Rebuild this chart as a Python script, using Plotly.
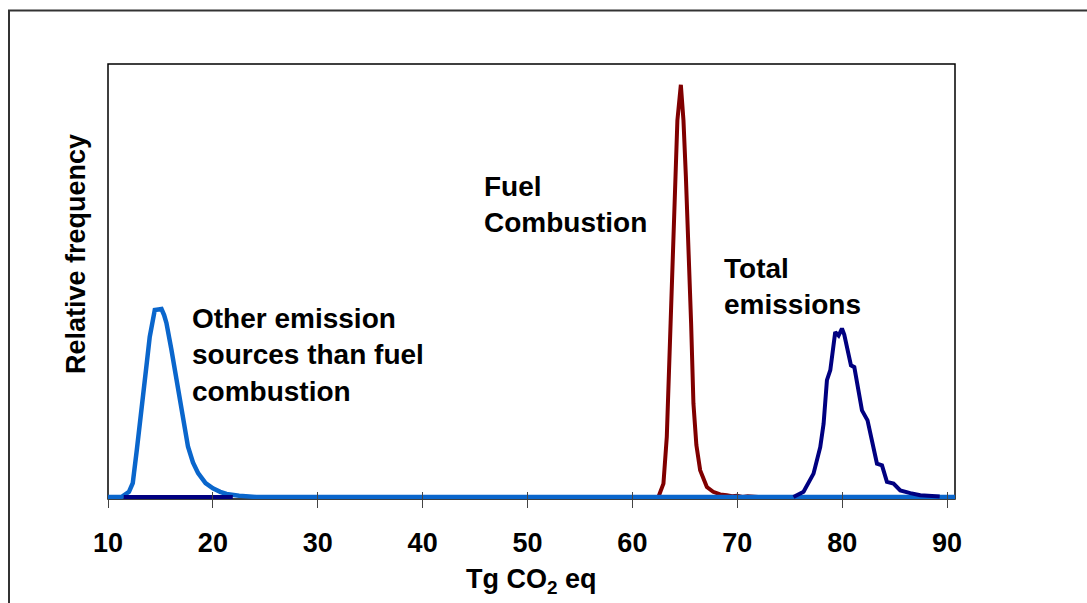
import plotly.graph_objects as go

# ---- data ----
other_x = [10, 11.28, 12.0, 12.36, 12.75, 13.34, 13.7, 13.98, 14.2, 14.46, 14.8, 15.1,
           15.35, 15.57, 16.05, 16.53, 17.0, 17.3, 17.63, 18.1, 18.59, 19.3, 20.0, 20.7,
           21.3, 22.5, 24.1, 90.76]
other_y = [0, 0, 1.2, 3.2, 10.9, 22.4, 31, 37.0, 39.5, 43.2, 43.3, 43.4,
           42, 40.2, 34, 27, 20.9, 16, 11.6, 8, 5.5, 3.2, 2.0, 1.2,
           0.7, 0.3, 0, 0]

fuel_x = [62.48, 62.96, 63.28, 63.6, 63.91, 64.29, 64.62, 64.87, 65.1, 65.34, 65.6,
          65.82, 66.1, 66.46, 67.1, 67.7, 68.37, 69.0, 69.5, 70.0, 70.5, 71.0, 72.0]
fuel_y = [0, 3.1, 13.9, 36, 60, 87, 95.2, 87, 74, 60, 40,
          21.6, 12, 6.2, 2.3, 1.2, 0.6, 0.4, 0.2, 0.3, 0, 0.2, 0]

total_x = [11.5, 21.9, None, 75.36, 76.32, 77.27, 77.91, 78.23, 78.55, 78.87, 79.34,
           79.66, 79.98, 80.2, 80.46, 80.84, 81.16, 81.5, 81.89, 82.42, 82.9, 83.32,
           83.8, 84.27, 84.9, 85.54, 86.5, 87.45, 89.3]
total_y = [0, 0, None, 0, 1.2, 5.4, 11.5, 16.9, 27, 29.3, 38.1,
           37.3, 38.9, 37.5, 34.6, 30.4, 30, 25, 20, 17.7, 12, 7.7,
           7.3, 3.5, 3.1, 1.5, 0.9, 0.4, 0.1]

x_ticks = [10, 20, 30, 40, 50, 60, 70, 80, 90]
x_range = [10, 90.76]
y_range = [-0.46, 100]

label_other = "Other emission<br>sources than fuel<br>combustion"
label_fuel = "Fuel<br>Combustion"
label_total = "Total<br>emissions"
x_title = "Tg CO<sub>2</sub> eq"
y_title = "Relative frequency"

FONT = "Liberation Sans, Arial, sans-serif"

# ---- layout geometry (pixels) ----
W, H = 1087, 603
L, R, T, B = 108, 955, 64, 499
PW, PH = R - L, B - T


def px(xp):
    return (xp - L) / PW


def py(yp):
    return (B - yp) / PH


fig = go.Figure()
fig.add_trace(go.Scatter(x=fuel_x, y=fuel_y, mode="lines",
                         line=dict(color="#800000", width=4), hoverinfo="skip"))
fig.add_trace(go.Scatter(x=other_x, y=other_y, mode="lines",
                         line=dict(color="#0A66CC", width=4.5), hoverinfo="skip"))
fig.add_trace(go.Scatter(x=total_x, y=total_y, mode="lines", connectgaps=False,
                         line=dict(color="#000080", width=4), hoverinfo="skip"))
# invisible trace on second x axis (for inner tick marks)
fig.add_trace(go.Scatter(x=x_range, y=[0, 0], xaxis="x2", mode="lines",
                         line=dict(width=0), hoverinfo="skip", showlegend=False))

fig.update_layout(
    width=W, height=H,
    margin=dict(l=L, r=W - R, t=T, b=H - B, pad=0),
    paper_bgcolor="white", plot_bgcolor="white",
    showlegend=False,
    font=dict(family=FONT, color="black"),
    xaxis=dict(range=x_range, tickmode="array", tickvals=x_ticks,
               ticks="outside", ticklen=8, tickwidth=1.3, tickcolor="#444",
               showgrid=False, zeroline=False, showline=False,
               tickfont=dict(family=FONT, size=27, color="black", weight="bold"),
               ticklabelstandoff=12),
    xaxis2=dict(range=x_range, overlaying="x", matches="x", side="bottom",
                tickmode="array", tickvals=x_ticks, ticks="inside", ticklen=7,
                tickwidth=1.3, tickcolor="#444", showticklabels=False,
                showgrid=False, zeroline=False, showline=False),
    yaxis=dict(range=y_range, showticklabels=False, ticks="", showgrid=False,
               zeroline=False, showline=False),
)

# plot-area frame (drawn below traces) and outer chart border
fig.add_shape(type="rect", xref="paper", yref="paper", x0=0, x1=1, y0=0, y1=1,
              line=dict(color="black", width=1.5), layer="below")
fig.add_shape(type="rect", xref="paper", yref="paper",
              x0=px(9), x1=px(1100), y0=py(620), y1=py(10.5),
              line=dict(color="#333", width=2), layer="below")

ann_font = dict(family=FONT, size=28, color="black", weight="bold")
fig.add_annotation(text=label_other, xref="paper", yref="paper", x=px(190), y=py(301),
                   xanchor="left", yanchor="top", align="left", showarrow=False, font=ann_font)
fig.add_annotation(text=label_fuel, xref="paper", yref="paper", x=px(482), y=py(169),
                   xanchor="left", yanchor="top", align="left", showarrow=False, font=ann_font)
fig.add_annotation(text=label_total, xref="paper", yref="paper", x=px(722), y=py(251),
                   xanchor="left", yanchor="top", align="left", showarrow=False, font=ann_font)
fig.add_annotation(text=x_title, xref="paper", yref="paper", x=px(531), y=py(581),
                   xanchor="center", yanchor="middle", showarrow=False,
                   font=dict(family=FONT, size=27, color="black", weight="bold"))
fig.add_annotation(text=y_title, xref="paper", yref="paper", x=px(76), y=py(254),
                   xanchor="center", yanchor="middle", textangle=-90, showarrow=False,
                   font=dict(family=FONT, size=27, color="black", weight="bold"))

fig.write_html("out.html")
